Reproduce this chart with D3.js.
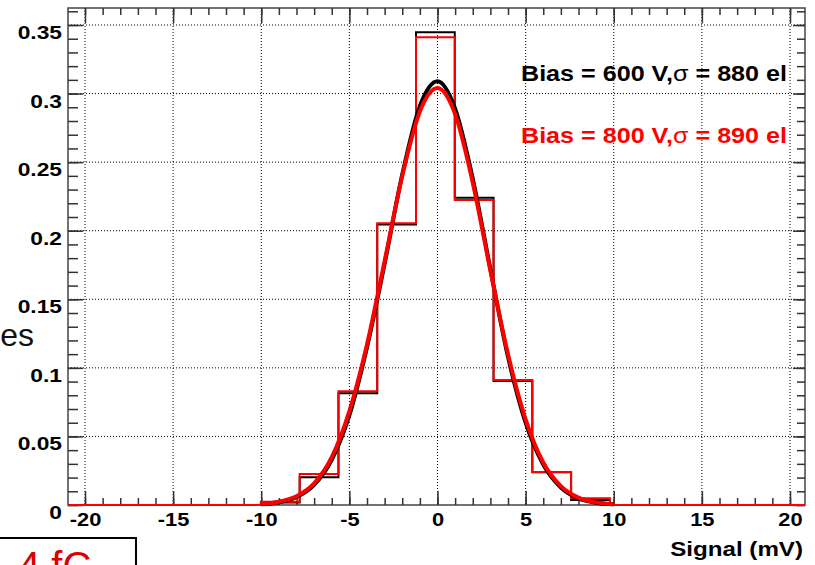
<!DOCTYPE html>
<html>
<head>
<meta charset="utf-8">
<script src="https://cdn.jsdelivr.net/npm/d3@7"></script>
<style>
  body { margin: 0; background: #fff; }
  svg { display: block; }
  text { font-family: "Liberation Sans", Arial, Helvetica, sans-serif; }
  .axis .tick text { font-weight: bold; font-size: 19px; fill: #000; }
  .axis .tick line { stroke: #333; stroke-width: 1.5; }
  .axis path.domain { display: none; }
  .grid line { stroke: #000; stroke-width: 1; stroke-dasharray: 1,2; }
</style>
</head>
<body>
<div id="container"></div>
<script>
/* CONSTANTS AND GLOBALS */
const width = 815,
  height = 565,
  margin = { top: 8, bottom: 60, left: 68, right: 10 }

// axis ranges (mV, normalised counts)
const xRange = [-20.965, 20.851]
const yRange = [0, 0.3624]
const xMajor = [-20, -15, -10, -5, 0, 5, 10, 15, 20]
const yMajor = [0, 0.05, 0.1, 0.15, 0.2, 0.25, 0.3, 0.35]

// histogram bin edges (mV) and contents
const binEdges = [-10.02, -7.82, -5.62, -3.42, -1.22, 0.98, 3.18, 5.38, 7.58, 9.78]
const hist600 = [0.0018, 0.0202, 0.0814, 0.2045, 0.3447, 0.2240, 0.0905, 0.0238, 0.0036]
const hist800 = [0.0024, 0.0226, 0.0830, 0.2054, 0.3410, 0.2224, 0.0911, 0.0240, 0.0049]

// gaussian fits
const fitX = [-10, -9, -8, -7, -6, -5, -4, -3, -2, -1, 0, 1, 2, 3, 4, 5, 6, 7, 8, 9, 10]
const fit600 = [0.0005, 0.0020, 0.0058, 0.0147, 0.0330, 0.0655, 0.115, 0.176, 0.241, 0.291, 0.309,
  0.289, 0.238, 0.172, 0.108, 0.0600, 0.0295, 0.0128, 0.0048, 0.0016, 0.0005]
const fit800 = [0.0007, 0.0024, 0.0064, 0.0158, 0.0349, 0.0685, 0.117, 0.178, 0.240, 0.287, 0.304,
  0.285, 0.235, 0.171, 0.110, 0.0625, 0.031, 0.0138, 0.0054, 0.0019, 0.0006]

const legendLabels = ["Bias = 600 V,", "Bias = 800 V,"]
const legendSigma = [" = 880 el", " = 890 el"]
const legendColors = ["#000000", "#ff0000"]

const stretch = "scale(1.2,1)"

// + SCALES
const xScale = d3.scaleLinear()
  .domain(xRange)
  .range([margin.left, width - margin.right])

const yScale = d3.scaleLinear()
  .domain(yRange)
  .range([height - margin.bottom, margin.top])

const svg = d3.select("#container")
  .append("svg")
  .attr("width", width)
  .attr("height", height)

const x0 = margin.left, x1 = width - margin.right
const y0 = margin.top, y1 = height - margin.bottom

// GRID
const grid = svg.append("g").attr("class", "grid")
grid.selectAll(".gx")
  .data(xMajor)
  .join("line")
  .attr("x1", d => xScale(d)).attr("x2", d => xScale(d))
  .attr("y1", y0).attr("y2", y1)
grid.selectAll(".gy")
  .data(yMajor.filter(d => d > 0))
  .join("line")
  .attr("x1", x0).attr("x2", x1)
  .attr("y1", d => yScale(d)).attr("y2", d => yScale(d))

// FRAME
svg.append("rect")
  .attr("x", x0).attr("y", y0)
  .attr("width", x1 - x0).attr("height", y1 - y0)
  .attr("fill", "none")
  .attr("stroke", "#444")
  .attr("stroke-width", 1.5)

// AXES (ticks pointing inwards, like ROOT)
const xMinor = d3.range(-20, 21, 1)
const yMinor = d3.range(0, 0.3601, 0.01)

svg.append("g").attr("class", "axis")
  .attr("transform", `translate(0, ${y1})`)
  .call(d3.axisBottom(xScale).tickValues(xMinor).tickSize(-7).tickFormat(""))
svg.append("g").attr("class", "axis xAxis")
  .attr("transform", `translate(0, ${y1})`)
  .call(d3.axisBottom(xScale).tickValues(xMajor).tickSize(-14).tickPadding(8).tickFormat(d => String(d)))
  .selectAll("text").attr("transform", "scale(1.15,1)")

svg.append("g").attr("class", "axis")
  .attr("transform", `translate(0, ${y0})`)
  .call(d3.axisTop(xScale).tickValues(xMinor).tickSize(-7).tickFormat(""))
svg.append("g").attr("class", "axis")
  .attr("transform", `translate(0, ${y0})`)
  .call(d3.axisTop(xScale).tickValues(xMajor).tickSize(-15).tickFormat(""))

svg.append("g").attr("class", "axis")
  .attr("transform", `translate(${x0}, 0)`)
  .call(d3.axisLeft(yScale).tickValues(yMinor).tickSize(-10).tickFormat(""))
svg.append("g").attr("class", "axis yAxis")
  .attr("transform", `translate(${x0}, 0)`)
  .call(d3.axisLeft(yScale).tickValues(yMajor).tickSize(-15).tickPadding(5).tickFormat(d => d === 0 ? "0" : d3.format(".2~f")(d)))
  .selectAll("text").attr("dy", "0.71em").attr("transform", stretch)

svg.append("g").attr("class", "axis")
  .attr("transform", `translate(${x1}, 0)`)
  .call(d3.axisRight(yScale).tickValues(yMinor).tickSize(-8).tickFormat(""))
svg.append("g").attr("class", "axis")
  .attr("transform", `translate(${x1}, 0)`)
  .call(d3.axisRight(yScale).tickValues(yMajor).tickSize(-12).tickFormat(""))

// axis title
svg.append("text")
  .attr("transform", `translate(${x1 - 2}, 556) scale(1.15,1)`)
  .attr("text-anchor", "end")
  .attr("font-weight", "bold")
  .attr("font-size", 21)
  .text("Signal (mV)")

// HISTOGRAMS (step outlines)
const stepPoints = vals => [{ x: xRange[0], y: 0 }]
  .concat(vals.map((v, i) => ({ x: binEdges[i], y: v })))
  .concat([{ x: binEdges[binEdges.length - 1], y: 0 }, { x: xRange[1], y: 0 }])

const stepGen = d3.line()
  .x(d => xScale(d.x))
  .y(d => yScale(d.y))
  .curve(d3.curveStepAfter)

svg.selectAll(".hist")
  .data([hist600, hist800])
  .join("path")
  .attr("class", "hist")
  .attr("d", d => stepGen(stepPoints(d)))
  .attr("fill", "none")
  .attr("stroke", (d, i) => legendColors[i])
  .attr("stroke-width", 2)

// FIT CURVES
const fitGen = d3.line()
  .x((d, i) => xScale(fitX[i]))
  .y(d => yScale(d))
  .curve(d3.curveMonotoneX)

svg.selectAll(".fit")
  .data([fit600, fit800])
  .join("path")
  .attr("class", "fit")
  .attr("d", d => fitGen(d))
  .attr("fill", "none")
  .attr("stroke", (d, i) => legendColors[i])
  .attr("stroke-width", 4)
  .attr("stroke-linejoin", "round")

// LEGEND TEXT
const leg = svg.selectAll(".leg")
  .data(legendLabels)
  .join("text")
  .attr("class", "leg")
  .attr("x", 521)
  .attr("y", (d, i) => 81 + i * 62)
  .attr("fill", (d, i) => legendColors[i])
  .attr("font-size", 22)
  .attr("font-weight", "bold")
  .attr("textLength", 266)
  .attr("lengthAdjust", "spacingAndGlyphs")
leg.append("tspan").text(d => d)
leg.append("tspan").attr("font-weight", "normal").text("σ")
leg.append("tspan").text((d, i) => legendSigma[i])

// slide leftovers around the plot
svg.append("text")
  .attr("x", 34).attr("y", 346)
  .attr("text-anchor", "end")
  .attr("font-size", 32)
  .attr("fill", "#111")
  .text("es")

svg.append("rect")
  .attr("x", -5).attr("y", 538)
  .attr("width", 141).attr("height", 60)
  .attr("fill", "none")
  .attr("stroke", "#000")
  .attr("stroke-width", 2)

svg.append("text")
  .attr("x", 18).attr("y", 580)
  .attr("font-size", 40)
  .attr("fill", "#dd0000")
  .text("4 fC")
</script>
</body>
</html>
